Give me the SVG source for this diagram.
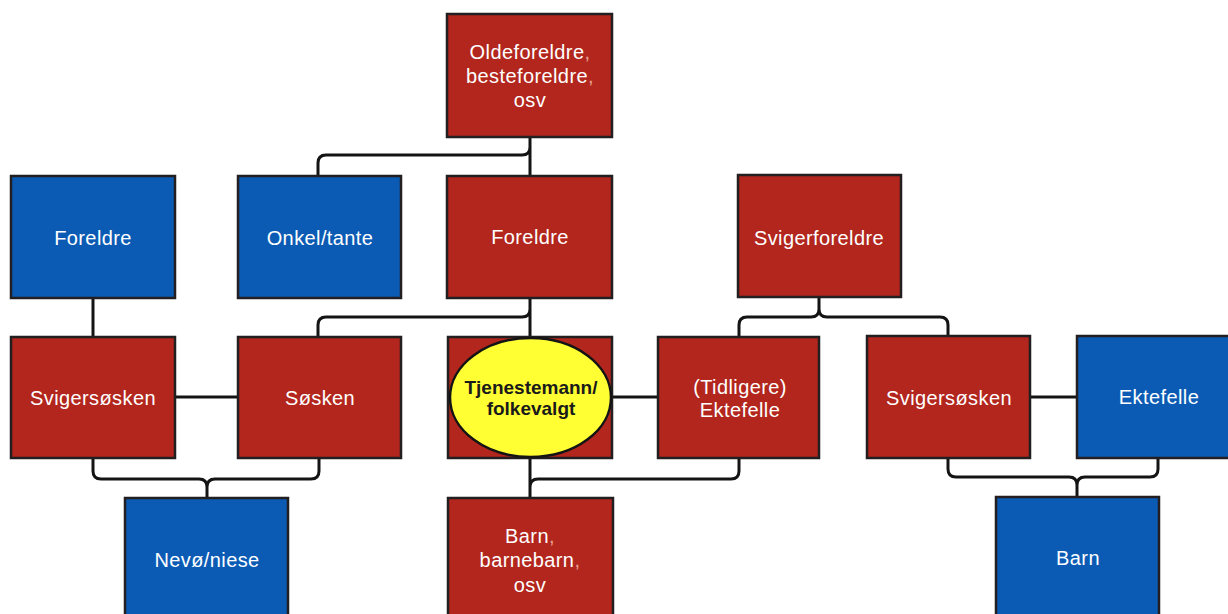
<svg xmlns="http://www.w3.org/2000/svg" width="1228" height="614" viewBox="0 0 1228 614">
<style>
.red{fill:#b2261d;stroke:#231f20;stroke-width:2.5}
.blue{fill:#0b5bb5;stroke:#231f20;stroke-width:2.5}
.t{font-family:"Liberation Sans",Arial,sans-serif;font-size:20px;letter-spacing:0.4px;fill:#ffffff;text-anchor:middle}
.tb{font-family:"Liberation Sans",Arial,sans-serif;font-size:19px;font-weight:bold;fill:#1a1a1a;text-anchor:middle}
.cm{fill:#e8a090}
.c{fill:none;stroke:#141414;stroke-width:3}
</style>
<rect width="1228" height="614" fill="#ffffff"/>
<g id="connectors">
<path class="c" d="M530 137 V176 M318 176 V163 Q318 155 326 155 H522 Q530 155 530 147"/>
<path class="c" d="M530 298 V337 M318 337 V325 Q318 317 326 317 H522 Q530 317 530 309"/>
<path class="c" d="M819 297 V309 Q819 317 811 317 H747 Q739 317 739 325 V337 M819 309 Q819 317 827 317 H940 Q948 317 948 325 V337"/>
<path class="c" d="M610 397 H658"/>
<path class="c" d="M530 458 V498 M530 487 Q530 479 538 479 H731 Q739 479 739 471 V458"/>
<path class="c" d="M93 458 V471 Q93 479 101 479 H199 Q207 479 207 487 V498 M319 458 V471 Q319 479 311 479 H215 Q207 479 207 487"/>
<path class="c" d="M948 458 V469 Q948 477 956 477 H1069 Q1077 477 1077 485 V497 M1158 458 V469 Q1158 477 1150 477 H1085 Q1077 477 1077 485"/>
<path class="c" d="M93 298 V337 M175 397 H238 M1030 397 H1077"/>
</g>
<g id="oldeforeldre">
<rect class="red" x="447" y="14" width="165" height="123"/>
<text class="t" x="530" y="59">Oldeforeldre<tspan class="cm">,</tspan></text>
<text class="t" x="530" y="83">besteforeldre<tspan class="cm">,</tspan></text>
<text class="t" x="530" y="107">osv</text>
</g>
<g id="foreldre-blue">
<rect class="blue" x="11" y="176" width="164" height="122"/>
<text class="t" x="93" y="245">Foreldre</text>
</g>
<g id="onkel-tante">
<rect class="blue" x="238" y="176" width="163" height="122"/>
<text class="t" x="320" y="245">Onkel/tante</text>
</g>
<g id="foreldre-red">
<rect class="red" x="447" y="176" width="165" height="122"/>
<text class="t" x="530" y="244">Foreldre</text>
</g>
<g id="svigerforeldre">
<rect class="red" x="738" y="175" width="163" height="122"/>
<text class="t" x="819" y="245">Svigerforeldre</text>
</g>
<g id="svigersosken-left">
<rect class="red" x="11" y="337" width="164" height="121"/>
<text class="t" x="93" y="405">Svigersøsken</text>
</g>
<g id="sosken">
<rect class="red" x="238" y="337" width="163" height="121"/>
<text class="t" x="320" y="405">Søsken</text>
</g>
<g id="tjenestemann">
<rect class="red" x="448" y="337" width="164" height="121"/>
<ellipse cx="530.5" cy="397.5" rx="80.5" ry="59.5" fill="#ffff33" stroke="#141414" stroke-width="2.5"/>
<text class="tb" x="531" y="394">Tjenestemann/</text>
<text class="tb" x="531" y="415">folkevalgt</text>
</g>
<g id="tidligere-ektefelle">
<rect class="red" x="658" y="337" width="161" height="121"/>
<text class="t" x="740" y="394">(Tidligere)</text>
<text class="t" x="740" y="417">Ektefelle</text>
</g>
<g id="svigersosken-right">
<rect class="red" x="867" y="336" width="163" height="122"/>
<text class="t" x="949" y="405">Svigersøsken</text>
</g>
<g id="ektefelle">
<rect class="blue" x="1077" y="336" width="165" height="122"/>
<text class="t" x="1159" y="404">Ektefelle</text>
</g>
<g id="nevo-niese">
<rect class="blue" x="125" y="498" width="163" height="130"/>
<text class="t" x="207" y="567">Nevø/niese</text>
</g>
<g id="barn-red">
<rect class="red" x="448" y="498" width="165" height="130"/>
<text class="t" x="530" y="543">Barn<tspan class="cm">,</tspan></text>
<text class="t" x="530" y="567">barnebarn<tspan class="cm">,</tspan></text>
<text class="t" x="530" y="592">osv</text>
</g>
<g id="barn-blue">
<rect class="blue" x="996" y="497" width="163" height="130"/>
<text class="t" x="1078" y="565">Barn</text>
</g>
</svg>
